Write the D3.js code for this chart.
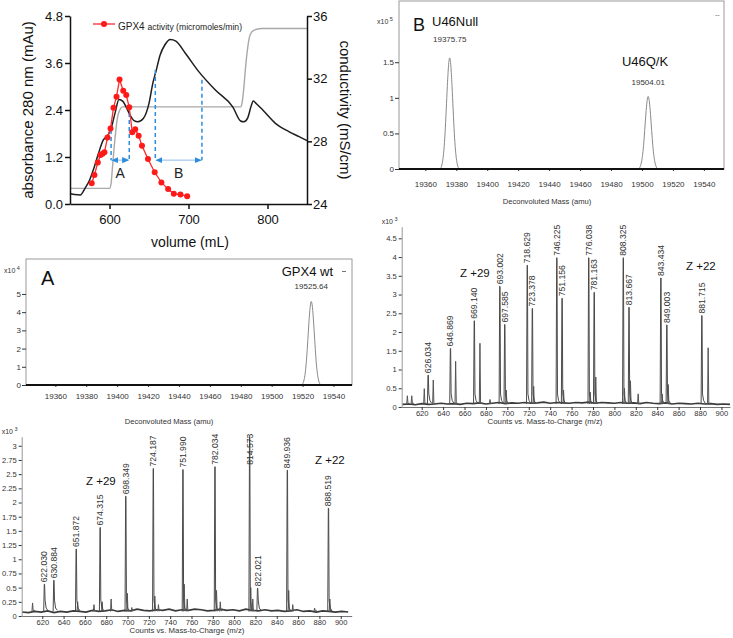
<!DOCTYPE html>
<html><head><meta charset="utf-8">
<script src="https://cdn.jsdelivr.net/npm/d3@7"></script>
<style>body{margin:0;background:#fff}svg{display:block}</style>
</head><body>
<script>
const FONT = '"Liberation Sans", Arial, sans-serif';

// ---------- Panel 1: chromatogram ----------
const volTicks = [600, 700, 800];
const absTicks = [0, 1.2, 2.4, 3.6, 4.8];
const condTicks = [24, 28, 32, 36];
const absVol = [550,556,563,569,575,580,586,592,598,602,607,612,617,621,626,631,636,643,650,655,659,664,670,677,684,696,713,734,756,766,770,775,779,782,786,794,810,827,840,850];
const absVal = [0.27,0.24,0.23,0.40,0.62,0.90,1.29,1.63,1.76,1.93,2.32,2.67,2.62,2.48,2.27,2.13,2.10,2.19,2.57,3.10,3.40,3.80,4.06,4.20,4.16,3.85,3.38,2.91,2.48,2.12,2.10,2.20,2.48,2.63,2.56,2.40,2.06,1.85,1.72,1.62];
const condVol = [550,600,602,604,607,610,613,616,620,700,766,768,770,772,775,778,783,792,850];
const condVal = [25.0,25.0,25.3,26.5,28.2,29.5,30.0,30.2,30.2,30.2,30.2,30.5,31.4,32.6,34.0,34.8,35.1,35.2,35.2];
const actVol = [577.5,580.9,585.2,588.6,591.1,593.6,597.5,601.3,605.1,608.9,612.7,617.4,621.2,625.0,628.8,632.6,636.9,641.1,648.7,657.2,665.7,674.2,681.4,689.8,698.3];
const actVal = [0.53,0.74,1.06,1.25,1.28,1.32,1.70,1.93,2.46,2.74,3.18,2.89,2.78,2.47,1.83,1.91,1.74,1.49,1.15,0.81,0.55,0.38,0.26,0.24,0.20];
const regionName = ["A", "B"];
const regionStart = [602, 658];
const regionEnd = [625, 717];
const regionStartTop = [1.89, 3.42];
const regionEndTop = [2.50, 3.17];
const regionArrowLevel = 1.12;
const regionLabelLevel = 0.78;

// ---------- Panel B: deconvoluted (U46Null / U46Q/K) ----------
const massTicks = [19360,19380,19400,19420,19440,19460,19480,19500,19520,19540];
const bYTicks = [0, 0.5, 1, 1.5];
const bPeakMass = [19375.75, 19504.01];
const bPeakName = ["U46Null", "U46Q/K"];
const bPeakOffsets = [-6, -4.5, -3, -1.5, 0, 1.5, 3, 4.5, 6];
const bPeak1Val = [0, 0.07, 0.43, 1.22, 1.73, 1.22, 0.43, 0.07, 0];
const bPeak2Val = [0, 0.05, 0.28, 0.80, 1.13, 0.80, 0.28, 0.05, 0];

// ---------- Panel A: deconvoluted (GPX4 wt) ----------
const aYTicks = [0, 1, 2, 3, 4, 5];
const aPeakMass = 19525.64;
const aPeakVal = [0, 0.2, 1.27, 3.6, 5.08, 3.6, 1.27, 0.2, 0];

// ---------- m/z spectra ----------
const mzTicks = [620,640,660,680,700,720,740,760,780,800,820,840,860,880,900];
const mrYTicks = [0,0.5,1,1.5,2,2.5,3,3.5,4,4.5];
const mrPeakMz = [626.034,646.869,669.140,693.002,697.585,718.629,723.378,746.225,751.156,776.038,781.163,808.325,813.667,843.434,849.003,881.715];
const mrPeakH  = [0.85,1.56,2.30,3.22,2.20,3.78,2.63,3.98,2.90,3.98,3.06,3.98,2.66,3.44,2.19,2.44];
const mrMinorMz = [606.6,610.7,622.4,630.8,651.7,674.4,683.8,699.0,724.6,752.5,777.4,782.6,809.4,815.0,822.2,844.6,850.3,887.6];
const mrMinorH  = [0.30,0.30,0.49,0.72,1.22,1.70,0.20,0.45,0.55,0.45,0.40,0.80,0.50,0.70,0.35,0.35,0.60,1.58];
const mrBase = [0.07,0.08,0.06,0.09,0.07,0.08,0.10,0.08,0.09,0.07,0.10,0.09,0.11,0.08,0.10,0.12,0.09,0.11,0.10,0.12,0.10,0.11,0.13,0.10,0.12,0.11,0.10,0.12,0.11,0.13,0.10,0.12,0.11,0.10,0.12,0.10,0.11,0.09,0.12,0.10,0.09,0.11,0.08,0.10,0.09,0.08,0.10,0.08,0.09,0.07,0.08,0.07];

const blYTicks = [0,0.25,0.5,0.75,1,1.25,1.5,1.75,2,2.25,2.5,2.75,3];
const blPeakMz = [622.030,630.884,651.872,674.315,698.349,724.187,751.990,782.034,814.573,822.021,849.936,888.519];
const blPeakH  = [0.56,0.63,1.18,1.56,2.11,2.60,2.58,2.63,3.16,0.49,2.57,1.90];
const blMinorMz = [610.9,653.2,668.5,676.2,684.6,699.8,704.0,725.6,729.0,753.2,756.0,783.5,787.0,815.6,817.5,851.2,855.0,875.5,889.8];
const blMinorH  = [0.23,0.25,0.20,0.25,0.30,0.40,0.15,0.35,0.20,0.56,0.30,0.45,0.25,0.50,0.30,0.45,0.20,0.14,0.30];
const blBase = [0.07,0.06,0.08,0.07,0.09,0.06,0.08,0.07,0.09,0.08,0.07,0.10,0.08,0.09,0.11,0.08,0.10,0.09,0.12,0.10,0.09,0.11,0.10,0.12,0.09,0.11,0.10,0.12,0.11,0.09,0.10,0.12,0.10,0.11,0.09,0.12,0.10,0.09,0.11,0.09,0.10,0.08,0.09,0.11,0.08,0.09,0.07,0.09,0.08,0.07,0.08,0.07];

// =====================================================
const svg = d3.select("body").append("svg").attr("width", 733).attr("height", 638)
  .attr("font-family", FONT);
svg.append("rect").attr("width", 733).attr("height", 638).attr("fill", "#fff");

function styleAxis(g, fs, color, sw) {
  g.attr("font-family", FONT).attr("font-size", fs);
  g.select(".domain").attr("stroke", color).attr("stroke-width", sw);
  g.selectAll(".tick line").attr("stroke", color).attr("stroke-width", sw);
  g.selectAll(".tick text").attr("fill", color);
}

// ---------- Panel 1 ----------
(function () {
  const g = svg.append("g");
  const x = d3.scaleLinear().domain([550, 850]).range([70, 307]);
  const yL = d3.scaleLinear().domain([0, 4.8]).range([204, 16]);
  const yR = d3.scaleLinear().domain([24, 36]).range([204, 16]);

  g.append("path").datum(condVol.map((v, i) => [v, condVal[i]]))
    .attr("d", d3.line().x(d => x(d[0])).y(d => yR(d[1])).curve(d3.curveMonotoneX))
    .attr("fill", "none").attr("stroke", "#a8a8a8").attr("stroke-width", 1.4);
  g.append("path").datum(absVol.map((v, i) => [v, absVal[i]]))
    .attr("d", d3.line().x(d => x(d[0])).y(d => yL(d[1])).curve(d3.curveMonotoneX))
    .attr("fill", "none").attr("stroke", "#1e1e1e").attr("stroke-width", 1.5);

  const defs = svg.append("defs");
  defs.append("marker").attr("id", "arr").attr("viewBox", "0 0 8 8").attr("refX", 7).attr("refY", 4)
    .attr("markerWidth", 7).attr("markerHeight", 7).attr("orient", "auto-start-reverse")
    .attr("markerUnits", "userSpaceOnUse")
    .append("path").attr("d", "M0,0.5 L8,4 L0,7.5 Z").attr("fill", "#2b8de0");
  regionName.forEach((nm, i) => {
    const xs = x(regionStart[i]), xe = x(regionEnd[i]), ya = yL(regionArrowLevel);
    g.append("line").attr("x1", xs).attr("x2", xs).attr("y1", yL(regionStartTop[i])).attr("y2", ya)
      .attr("stroke", "#2b8de0").attr("stroke-width", 1.5).attr("stroke-dasharray", "4,3");
    g.append("line").attr("x1", xe).attr("x2", xe).attr("y1", yL(regionEndTop[i])).attr("y2", ya)
      .attr("stroke", "#2b8de0").attr("stroke-width", 1.5).attr("stroke-dasharray", "4,3");
    g.append("line").attr("x1", xs + 1).attr("x2", xe - 1).attr("y1", ya).attr("y2", ya)
      .attr("stroke", "#8cbde9").attr("stroke-width", 1)
      .attr("marker-start", "url(#arr)").attr("marker-end", "url(#arr)");
    g.append("text").attr("x", (xs + xe) / 2).attr("y", yL(regionLabelLevel)).attr("dy", "0.35em")
      .attr("text-anchor", "middle").attr("font-size", 14).attr("fill", "#222").text(nm);
  });

  g.append("path").datum(actVol.map((v, i) => [v, actVal[i]]))
    .attr("d", d3.line().x(d => x(d[0])).y(d => yL(d[1])))
    .attr("fill", "none").attr("stroke", "#ff2a2a").attr("stroke-width", 1.3);
  g.selectAll("circle.act").data(actVol).join("circle").attr("class", "act")
    .attr("cx", (d) => x(d)).attr("cy", (d, i) => yL(actVal[i])).attr("r", 3)
    .attr("fill", "#ff1a1a");

  const ax = g.append("g").attr("transform", "translate(70,0)")
    .call(d3.axisLeft(yL).tickValues(absTicks).tickFormat(d3.format(".1f")).tickSize(5).tickSizeOuter(0).tickPadding(2));
  styleAxis(ax, 13, "#111", 1.5);
  const ar = g.append("g").attr("transform", "translate(307,0)")
    .call(d3.axisRight(yR).tickValues(condTicks).tickSize(5).tickSizeOuter(0).tickPadding(1));
  styleAxis(ar, 13, "#111", 1.5);
  const ab = g.append("g").attr("transform", "translate(0,204)")
    .call(d3.axisBottom(x).tickValues(volTicks).tickSize(5).tickSizeOuter(0).tickPadding(6));
  styleAxis(ab, 13, "#111", 1.5);

  g.append("text").attr("transform", "translate(28,110) rotate(-90)").attr("dy", "0.35em")
    .attr("text-anchor", "middle").attr("font-size", 15).attr("fill", "#111").text("absorbance 280 nm (mAu)");
  g.append("text").attr("transform", "translate(345,110) rotate(90)").attr("dy", "0.35em")
    .attr("text-anchor", "middle").attr("font-size", 15).attr("fill", "#111").text("conductivity (mS/cm)");
  g.append("text").attr("x", 190).attr("y", 242).attr("dy", "0.35em")
    .attr("text-anchor", "middle").attr("font-size", 14).attr("fill", "#111").text("volume (mL)");

  g.append("line").attr("x1", 93).attr("x2", 115).attr("y1", 24).attr("y2", 24)
    .attr("stroke", "#ff2a2a").attr("stroke-width", 1.3);
  g.append("circle").attr("cx", 104).attr("cy", 24).attr("r", 3).attr("fill", "#ff1a1a");
  const lt = g.append("text").attr("x", 118).attr("y", 24).attr("dy", "0.35em").attr("fill", "#222");
  lt.append("tspan").attr("font-size", 10).text("GPX4 ");
  lt.append("tspan").attr("font-size", 8.6).text("activity (micromoles/min)");
})();

// ---------- Deconvoluted panels ----------
function drawDeconv(o) {
  const g = svg.append("g");
  const x = d3.scaleLinear().domain(o.domain).range([o.left, o.right]);
  const y = d3.scaleLinear().domain([0, o.yMax]).range([o.bottom, o.top]);
  g.append("rect").attr("x", o.left).attr("y", o.top).attr("width", o.right - o.left).attr("height", o.bottom - o.top)
    .attr("fill", "none").attr("stroke", "#9a9a9a").attr("stroke-width", 1);
  o.peaks.forEach(p => {
    g.append("path").datum(bPeakOffsets.map((off, i) => [p.mass + off, p.vals[i]]))
      .attr("d", d3.line().x(d => x(d[0])).y(d => y(d[1])).curve(d3.curveBasis))
      .attr("fill", "none").attr("stroke", "#8a8a8a").attr("stroke-width", 1);
    g.append("text").attr("x", x(p.mass)).attr("y", y(p.vals[4]) - 4).attr("text-anchor", "middle")
      .attr("font-size", 8).attr("fill", "#333").text(p.mass.toFixed(2));
  });
  const ay = g.append("g").attr("transform", `translate(${o.left},0)`)
    .call(d3.axisLeft(y).tickValues(o.yTicks).tickFormat(d3.format("~g")).tickSize(4).tickSizeOuter(0).tickPadding(1));
  styleAxis(ay, 8, "#333", 1);
  ay.select(".domain").remove();
  const ax = g.append("g").attr("transform", `translate(0,${o.bottom})`)
    .call(d3.axisBottom(x).tickValues(massTicks).tickFormat(d3.format("d")).tickSize(2).tickSizeOuter(0));
  styleAxis(ax, 8, "#333", 1);
  ax.select(".domain").remove();
  ax.selectAll(".tick text").attr("y", o.tickLabY).attr("dy", 0);
  g.append("line").attr("x1", o.left).attr("x2", o.right).attr("y1", o.bottom).attr("y2", o.bottom)
    .attr("stroke", "#111").attr("stroke-width", 2);
  g.append("text").attr("x", o.titleX).attr("y", o.titleY).attr("text-anchor", "middle")
    .attr("font-size", 7.6).attr("fill", "#333").text("Deconvoluted Mass (amu)");
  const ex = g.append("text").attr("x", o.left - 22).attr("y", o.top + o.expDy).attr("fill", "#333").attr("font-size", 7);
  ex.append("tspan").text("x10");
  ex.append("tspan").attr("dx", 1.5).attr("dy", -3).attr("font-size", 5.5).text(o.exp);
  return { g, x, y };
}

(function () {
  const r = drawDeconv({ domain: [19343, 19553], left: 399, right: 724, top: 1, bottom: 169, yMax: 2.36,
    yTicks: bYTicks, tickLabY: 18, titleX: 547, titleY: 204, expDy: 23, exp: "5",
    peaks: [{ mass: bPeakMass[0], vals: bPeak1Val }, { mass: bPeakMass[1], vals: bPeak2Val }] });
  r.g.append("text").attr("x", 413).attr("y", 31).attr("font-size", 18).attr("fill", "#111").text("B");
  r.g.append("text").attr("x", 432).attr("y", 26).attr("font-size", 13).attr("fill", "#111").text(bPeakName[0]);
  r.g.append("text").attr("x", 645).attr("y", 66).attr("text-anchor", "middle").attr("font-size", 13).attr("fill", "#111").text(bPeakName[1]);
  r.g.append("text").attr("x", 715).attr("y", 17).attr("font-size", 7).attr("fill", "#666").text("--");
})();

(function () {
  const r = drawDeconv({ domain: [19341, 19552], left: 26, right: 352, top: 259, bottom: 385, yMax: 6.92,
    yTicks: aYTicks, tickLabY: 13.5, titleX: 169, titleY: 423.5, expDy: 14, exp: "4",
    peaks: [{ mass: aPeakMass, vals: aPeakVal }] });
  r.g.append("text").attr("x", 41).attr("y", 285).attr("font-size", 20).attr("fill", "#111").text("A");
  r.g.append("text").attr("x", 333).attr("y", 276).attr("text-anchor", "end").attr("font-size", 13).attr("fill", "#111").text("GPX4 wt");
  r.g.append("line").attr("x1", 342).attr("x2", 346).attr("y1", 271.5).attr("y2", 271.5).attr("stroke", "#777");
})();

// ---------- m/z spectra ----------
function drawMS(o) {
  const g = svg.append("g");
  const x = d3.scaleLinear().domain(o.domain).range([o.left, o.right]);
  const y = d3.scaleLinear().domain([0, o.yMax]).range([o.bottom, o.top]);
  const line = d3.line().x(d => x(d[0])).y(d => y(d[1]));
  g.append("path").datum(o.baseMz.map((m, i) => [m, o.base[i]])).attr("d", line)
    .attr("fill", "none").attr("stroke", "#3a3a3a").attr("stroke-width", 1.7);
  o.minorMz.forEach((m, i) => {
    g.append("path").datum([[m - 0.6, 0.08], [m, o.minorH[i]], [m + 0.6, 0.09], [m + 2, 0.1]]).attr("d", line)
      .attr("fill", "none").attr("stroke", "#555").attr("stroke-width", 1);
  });
  o.peakMz.forEach((m, i) => {
    const t = o.tail;
    g.append("path").datum([[m - 0.7, 0.08], [m - 0.15, o.peakH[i]], [m + 0.15, o.peakH[i]], [m + 0.6, t], [m + 1.6, t * 0.5], [m + 3.2, 0.1]])
      .attr("d", line).attr("fill", "none").attr("stroke", "#4a4a4a").attr("stroke-width", 1);
    const ly = Math.min(o.peakH[i], o.labelCap);
    g.append("text").attr("transform", `translate(${x(m)},${y(ly) - 2}) rotate(-90)`)
      .attr("dy", "0.35em").attr("font-size", 8.6).attr("fill", "#333").text(m.toFixed(3));
  });
  const ay = g.append("g").attr("transform", `translate(${o.left},0)`)
    .call(d3.axisLeft(y).tickValues(o.yTicks).tickFormat(d3.format("~g")).tickSize(3).tickSizeOuter(0).tickPadding(2));
  styleAxis(ay, 7.6, "#333", 1);
  ay.select(".domain").attr("stroke", "#999");
  const ax = g.append("g").attr("transform", `translate(0,${o.bottom})`)
    .call(d3.axisBottom(x).tickValues(mzTicks).tickSize(3).tickSizeOuter(0));
  styleAxis(ax, 7.6, "#333", 1);
  ax.select(".domain").attr("stroke", "#777");
  ax.selectAll(".tick text").attr("y", 8.5).attr("dy", 0);
  g.append("text").attr("x", o.titleX).attr("y", o.bottom + 17).attr("text-anchor", "middle")
    .attr("font-size", 7.8).attr("fill", "#333").text("Counts vs. Mass-to-Charge (m/z)");
  const ex = g.append("text").attr("x", o.left - 20).attr("y", o.top - 2.5).attr("fill", "#333").attr("font-size", 7);
  ex.append("tspan").text("x10");
  ex.append("tspan").attr("dx", 1.5).attr("dy", -3).attr("font-size", 5.5).text("3");
  g.append("text").attr("x", o.z29[0]).attr("y", o.z29[1]).attr("font-size", 11.5).attr("fill", "#111").text("Z +29");
  g.append("text").attr("x", o.z22[0]).attr("y", o.z22[1]).attr("font-size", 11.5).attr("fill", "#111").text("Z +22");
}

drawMS({ domain: [601.3, 908], left: 401.7, right: 730, top: 226.7, bottom: 407, yMax: 4.81,
  yTicks: mrYTicks, baseMz: d3.range(602, 909, 6), base: mrBase,
  peakMz: mrPeakMz, peakH: mrPeakH, minorMz: mrMinorMz, minorH: mrMinorH, tail: 0.35, labelCap: 9,
  titleX: 545, z29: [460, 277], z22: [686, 270] });

drawMS({ domain: [600.7, 910.3], left: 21.7, right: 351.7, top: 436.7, bottom: 616, yMax: 3.16,
  yTicks: blYTicks, baseMz: d3.range(601, 908, 6), base: blBase,
  peakMz: blPeakMz, peakH: blPeakH, minorMz: blMinorMz, minorH: blMinorH, tail: 0.28, labelCap: 2.63,
  titleX: 187, z29: [86, 485], z22: [315, 464] });
</script>
</body></html>
